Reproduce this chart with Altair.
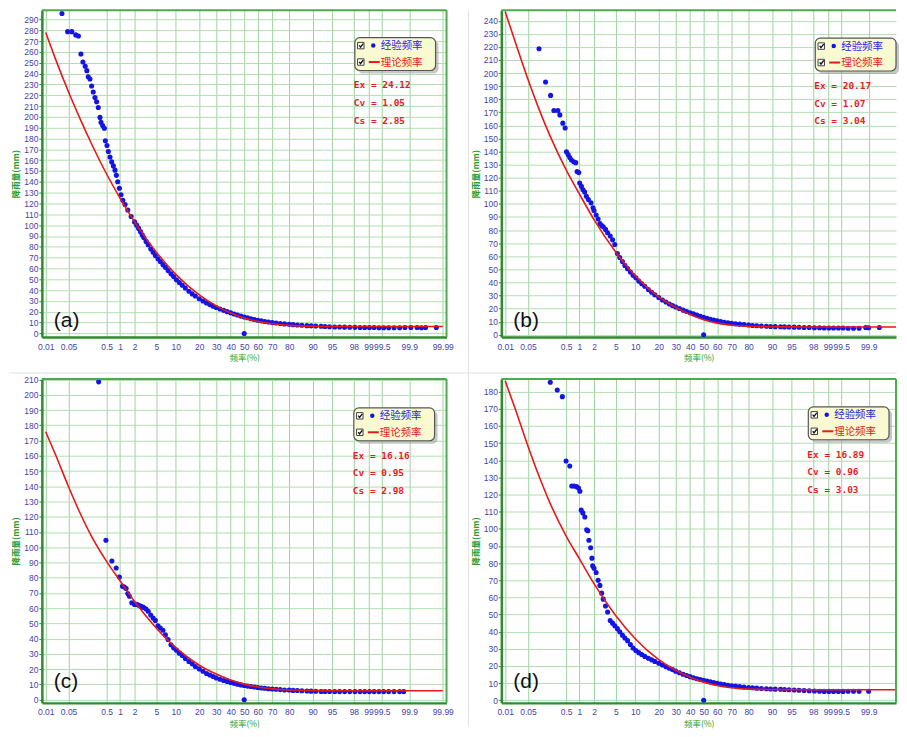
import altair as alt
import pandas as pd
from statistics import NormalDist

# ---------------- data ----------------
tick_p = [0.01, 0.05, 0.5, 1, 2, 5, 10, 20, 30, 40, 50, 60, 70, 80, 90, 95, 98, 99, 99.5, 99.9, 99.99]

curve_p = [0.01, 0.02, 0.05, 0.1, 0.2, 0.5, 1, 2, 5, 10, 20, 30, 40, 50, 60, 70, 80, 90,
           95, 98, 99, 99.5, 99.9, 99.99]
curve_a = [278, 254, 223, 200, 177, 147, 125, 103, 75, 54.5, 35.5, 25.4, 18.9, 14.3, 11.1, 8.9, 7.4, 6.6,
           6.4, 6.35, 6.35, 6.35, 6.35, 6.35]
curve_b = [247, 225, 195, 173, 152, 126, 107.5, 88, 63, 45, 29, 21, 15.4, 11.5, 8.9, 7.3, 6.5, 6.1,
           6.0, 5.97, 5.97, 5.97, 5.97, 5.97]
curve_c = [175.8, 161.2, 139.7, 123.6, 108.3, 90.6, 78, 64.4, 46.9, 34.1, 22.6, 16.8, 12.9, 10.2, 8.3, 7.1, 6.3, 6.0,
           5.9, 5.86, 5.86, 5.86, 5.86, 5.86]
curve_d = [186.3, 170.9, 148.2, 131.2, 115, 95.8, 82.5, 68, 49.3, 35.9, 23.7, 17.5, 13.5, 10.6, 8.6, 7.3, 6.5, 6.3,
           6.2, 6.19, 6.19, 6.19, 6.19, 6.19]

# dense part of the empirical points (shared frequencies)
band_p = [2.0, 2.2, 2.4, 2.6, 2.8, 3.0, 3.3, 3.6, 4.0, 4.4, 4.8,
          5.3, 5.8, 6.4, 7.0, 7.7, 8.5, 9.3,
          10.2, 11.2, 12.3, 13.5, 15.0, 16.5, 18.0,
          20.0, 22.0, 24.0, 26.0, 28.0, 30.0,
          32.5, 35.0, 37.5, 40.0, 42.5, 45.0, 47.5, 50.0, 52.5, 55.0, 57.5, 60.0, 62.5, 65.0, 67.5, 70.0,
          72.5, 75.0, 77.5, 80.0,
          82.0, 84.0, 86.0, 88.0,
          89.5, 91.0, 92.5, 93.5, 94.5, 95.5, 96.3, 97.0,
          97.6, 98.1, 98.5, 98.8, 99.05, 99.25, 99.42, 99.55, 99.66, 99.75, 99.82]
band_a = [103, 100, 97, 94, 91, 88.5, 85, 82, 78, 75, 72,
          69, 66.5, 63.5, 61, 58, 55, 52.5,
          49.5, 47, 44.5, 42, 39, 36.5, 34.5,
          32, 30, 28.2, 26.6, 25.2, 24,
          22.6, 21.3, 20.1, 19, 18, 17, 16, 15.2, 14.4, 13.6, 12.9, 12.2, 11.6, 11, 10.5, 10,
          9.6, 9.2, 8.8, 8.4,
          8.1, 7.8, 7.5, 7.2,
          7.0, 6.8, 6.6, 6.4, 6.2, 6.0, 5.9, 5.8,
          5.7, 5.6, 5.5, 5.5, 5.4, 5.4, 5.3, 5.3, 5.3, 5.2, 5.2]
band_b = [95, 91.5, 88.5, 85, 83.5, 82.5, 80.5, 78, 75.5, 72.5, 69,
          62, 59, 56, 53, 50.5, 48, 45.5,
          43.5, 41, 39, 37, 34.5, 32.5, 30.5,
          28.5, 26.5, 25, 23.5, 22.3, 21.2,
          20, 18.8, 17.8, 16.8, 16, 15, 14.2, 13.4, 12.6, 11.9, 11.2, 10.6, 10, 9.5, 9.1, 8.7,
          8.4, 8.1, 7.8, 7.4,
          7.1, 6.9, 6.7, 6.5,
          6.3, 6.2, 6.1, 6.0, 5.9, 5.8, 5.7, 5.6,
          5.5, 5.4, 5.3, 5.2, 5.2, 5.1, 5.1, 5.1, 5.0, 5.0, 5.0]
band_c = [62.5, 62.5, 62, 61.5, 61, 60.5, 59.5, 58, 55.5, 53.5, 52,
          48.5, 47, 45.5, 42.5, 39.5, 36, 34,
          32.5, 30.5, 29, 27, 25, 23.5, 21.8,
          20.2, 18.6, 17.2, 16.2, 15.2, 14.3,
          13.4, 12.6, 11.9, 11.3, 10.7, 10.2, 9.7, 9.3, 8.9, 8.6, 8.3, 8.0, 7.7, 7.5, 7.2, 7.0,
          6.8, 6.6, 6.4, 6.3,
          6.1, 6.0, 5.8, 5.7,
          5.6, 5.5, 5.4, 5.4, 5.4, 5.3, 5.3, 5.3,
          5.3, 5.3, 5.3, 5.3, 5.3, 5.3, 5.3, 5.3, 5.3, 5.3, 5.3]
band_d = [77, 74.5, 70, 67, 62.5, 59, 55, 51.5, 46.5, 45, 43.5,
          41.8, 40, 38, 36.3, 34.8, 32.5, 30.5,
          29, 27.8, 26.7, 25.6, 24.5, 23.6, 22.7,
          21.6, 20.6, 19.6, 18.7, 17.9, 17,
          16.1, 15.2, 14.5, 13.8, 13.2, 12.6, 12.1, 11.7, 11.2, 10.8, 10.3, 9.9, 9.5, 9.2, 8.8, 8.5,
          8.3, 8.0, 7.7, 7.5,
          7.3, 7.1, 6.9, 6.7,
          6.6, 6.5, 6.4, 6.3, 6.2, 6.0, 5.9, 5.7,
          5.6, 5.4, 5.3, 5.2, 5.2, 5.2, 5.2, 5.2, 5.3, 5.3, 5.3]

# sparse upper empirical points
upper_a_p = [0.032, 0.047, 0.062, 0.080, 0.095, 0.111, 0.126, 0.145, 0.160, 0.174, 0.193, 0.213, 0.234,
             0.259, 0.285, 0.313, 0.345, 0.365, 0.40, 0.44, 0.464, 0.508, 0.546, 0.597, 0.653, 0.713,
             0.776, 0.831, 0.89, 0.97, 1.05, 1.15, 1.28, 1.46, 1.71]
upper_a_v = [295.5, 278.7, 278.7, 275.7, 274.7, 258, 250.7, 246.7, 242.7, 237, 235, 228.5, 223,
             217.8, 214, 208.6, 199.5, 195, 192, 189.5, 178, 173.6, 168, 163, 158.4, 154.7,
             150.8, 146, 140, 134, 128, 123, 119, 114, 108]
upper_b_p = [0.102, 0.153, 0.207, 0.251, 0.316, 0.353, 0.417, 0.473, 0.509, 0.556, 0.607, 0.663,
             0.748, 0.829, 0.887, 0.964, 1.01, 1.10, 1.19, 1.29, 1.40, 1.54, 1.74, 1.91]
upper_b_v = [218.6, 193.2, 182.9, 171.3, 171.3, 168, 161.7, 158, 139.8, 137.8, 135.5, 133.5,
             132.2, 131.5, 124.7, 123.9, 115.9, 113.4, 110.8, 109, 105.8, 103.3, 100.8, 97]
upper_c_p = [0.32, 0.479, 0.659, 0.824, 0.97, 1.13, 1.24, 1.35, 1.46, 1.58, 1.76, 1.98]
upper_c_v = [208.5, 104.6, 91, 86.4, 80.4, 74.4, 73.9, 72.9, 69.6, 67.9, 63.6, 62.8]
upper_d_p = [0.203, 0.305, 0.406, 0.497, 0.607, 0.674, 0.763, 0.861, 0.952, 1.02, 1.09, 1.18, 1.30,
             1.42, 1.50, 1.58, 1.71, 1.82, 1.88]
upper_d_v = [185.5, 181, 177.1, 139.6, 136.6, 125, 125, 124.6, 123.8, 121.9, 110.9, 109.3, 106.9,
             99.4, 98.9, 93.3, 89, 82.9, 78.5]

# sparse tail points and the zero outlier at 50 %
tail_a_p = [99.87, 99.91, 99.94, 99.955, 99.966, 99.984]
tail_a_v = [5.4, 5.4, 5.4, 5.3, 5.4, 5.4]
tail_b_p = [99.88, 99.9, 99.95]
tail_b_v = [5.5, 5.4, 5.5]
tail_c_p = [99.86]
tail_c_v = [5.3]
tail_d_p = [99.9]
tail_d_v = [5.3]
zero_p = [50]
zero_v = [0]

stats_a = ["Ex = 24.12", "Cv = 1.05", "Cs = 2.85"]
stats_b = ["Ex = 20.17", "Cv = 1.07", "Cs = 3.04"]
stats_c = ["Ex = 16.16", "Cv = 0.95", "Cs = 2.98"]
stats_d = ["Ex = 16.89", "Cv = 0.96", "Cs = 3.03"]

legend_labels = ["经验频率", "理论频率"]

# ---------------- styling ----------------
BLUE = "#1414e6"
RED = "#e41a1a"
GRIDX = "#9fd39f"
GRIDY = "#b3ddb3"
AXIS = "#2e8b2e"
FRAME = "#4cab4c"
LABEL = "#4545a5"
TITLE = "#2c9c2c"
SEP = "#e2e2e2"

nd = NormalDist()
ZEXPR = "quantileNormal(datum.p / 100)"
XMIN = -3.79


def panel(tag, cur_v, up_p, up_v, bd_v, tl_p, tl_v, ydom, w, h, xmax, stats, lx, ly, lab_dy,
          right_border=True, separators=False):
    xs = alt.Scale(domain=[XMIN, xmax], nice=False, zero=False)
    ys = alt.Scale(domain=ydom, nice=False, zero=False)
    xvals = [nd.inv_cdf(p / 100.0) for p in tick_p if nd.inv_cdf(p / 100.0) <= xmax]
    yvals = list(range(0, int(ydom[1]) + 1, 10))
    xaxis = alt.Axis(values=xvals, labelExpr="format(cumulativeNormal(datum.value) * 100, '.4~r')",
                     title="频率(%)", grid=True, gridColor=GRIDX, gridWidth=1, ticks=False,
                     labelPadding=5, labelFontSize=8.5, labelFont="Liberation Sans", labelColor=LABEL,
                     labelFlush=False, labelOverlap=False, domainColor=AXIS, domainWidth=2.5,
                     titleColor=TITLE, titleFont="Noto Sans CJK SC", titleFontSize=8.5,
                     titleFontWeight="normal", titleY=16.5, titleBaseline="top")
    yaxis = alt.Axis(values=yvals, title="降雨量(mm)", grid=True, gridColor=GRIDY, gridWidth=1,
                     tickSize=3, tickColor=AXIS, labelPadding=1, labelFontSize=8.5,
                     labelFont="Liberation Sans", labelColor=LABEL, labelOverlap=False,
                     domainColor=AXIS, domainWidth=2.5, titleColor=TITLE, titleFont="Noto Sans CJK SC",
                     titleFontSize=8.5, titleFontWeight="bold", titleAngle=270, titleAlign="center",
                     titleBaseline="bottom", titleX=-21, titleY=h / 2)
    x_enc = alt.X("z:Q", scale=xs, axis=xaxis)
    y_enc = alt.Y("v:Q", scale=ys, axis=yaxis)

    emp = pd.DataFrame({"p": up_p + band_p + tl_p + zero_p, "v": up_v + bd_v + tl_v + zero_v})
    cur = pd.DataFrame({"p": curve_p, "v": cur_v})
    one = pd.DataFrame({"k": [0]})
    base = alt.Chart(one)

    layers = []
    if separators:
        layers.append(base.mark_rule(color=SEP, strokeWidth=1).encode(
            x=alt.value(-33), x2=alt.value(858), y=alt.value(364)))
        layers.append(base.mark_rule(color=SEP, strokeWidth=1).encode(
            x=alt.value(428), y=alt.value(0), y2=alt.value(719)))

    pts = alt.Chart(emp).transform_calculate(z=ZEXPR).mark_circle(
        size=26, color=BLUE, opacity=1, clip=True).encode(x=x_enc, y=y_enc)
    line = alt.Chart(cur).transform_calculate(z=ZEXPR).mark_line(
        color=RED, strokeWidth=1.6, interpolate="monotone", clip=True).encode(x=x_enc, y=y_enc)
    layers += [pts, line]

    # frame (top / right)
    layers.append(base.mark_rule(color=FRAME, strokeWidth=2).encode(
        x=alt.value(0), x2=alt.value(w), y=alt.value(0)))
    if right_border:
        layers.append(base.mark_rule(color=FRAME, strokeWidth=2).encode(
            x=alt.value(w), y=alt.value(0), y2=alt.value(h)))

    # legend box
    layers.append(base.mark_rect(color="#9a9a9a", opacity=0.55, cornerRadius=5).encode(
        x=alt.value(lx + 3), x2=alt.value(lx + 84), y=alt.value(ly + 3), y2=alt.value(ly + 36)))
    layers.append(base.mark_rect(fill="#fafad2", stroke="#555555", strokeWidth=1.2, cornerRadius=5).encode(
        x=alt.value(lx), x2=alt.value(lx + 81), y=alt.value(ly), y2=alt.value(ly + 33)))
    for dy in (8, 24.5):
        layers.append(base.mark_point(shape="square", filled=True, fill="white", stroke="#444444",
                                      strokeWidth=1, size=42, opacity=1).encode(
            x=alt.value(lx + 6), y=alt.value(ly + dy)))
        layers.append(base.mark_point(shape="M-0.65,-0.05L-0.2,0.55L0.75,-0.7", filled=False,
                                      stroke="#111111", strokeWidth=1.3, size=34, opacity=1).encode(
            x=alt.value(lx + 6.3), y=alt.value(ly + dy)))
    layers.append(base.mark_circle(color=BLUE, size=20, opacity=1).encode(
        x=alt.value(lx + 18.5), y=alt.value(ly + 8)))
    layers.append(base.mark_rule(color=RED, strokeWidth=2).encode(
        x=alt.value(lx + 14), x2=alt.value(lx + 25), y=alt.value(ly + 24.5)))
    for txt, dy, col in ((legend_labels[0], 8.5, "#2a2ae0"), (legend_labels[1], 25, RED)):
        layers.append(base.mark_text(align="left", baseline="middle", font="Noto Sans CJK SC",
                                     fontSize=10.5, color=col).encode(
            x=alt.value(lx + 26), y=alt.value(ly + dy), text=alt.value(txt)))

    # statistics
    for i, s in enumerate(stats):
        layers.append(base.mark_text(align="left", baseline="middle", font="DejaVu Sans Mono",
                                     fontWeight="bold", fontSize=9.5, color="#e61e1e").encode(
            x=alt.value(lx - 1), y=alt.value(ly + 48 + 17.8 * i), text=alt.value(s)))

    # panel tag
    layers.append(base.mark_text(align="left", baseline="middle", font="Liberation Sans",
                                 fontSize=21, color="#111111").encode(
        x=alt.value(12), y=alt.value(h - lab_dy), text=alt.value(tag)))

    return alt.layer(*layers).properties(width=w, height=h)


W1 = 406
W2 = 396
XMAX1 = 3.79
XMAX2 = XMIN + (XMAX1 - XMIN) * W2 / W1
H1 = 328
H2 = 325

pa = panel("(a)", curve_a, upper_a_p, upper_a_v, band_a, tail_a_p, tail_a_v, [-3.4, 298.5],
           W1, H1, XMAX1, stats_a, 314, 27.5, 16, separators=True)
pb = panel("(b)", curve_b, upper_b_p, upper_b_v, band_b, tail_b_p, tail_b_v, [-1.8, 248],
           W2, H1, XMAX2, stats_b, 315, 28, 16, right_border=False)
pc = panel("(c)", curve_c, upper_c_p, upper_c_v, band_c, tail_c_p, tail_c_v, [-2.1, 210.4],
           W1, H2, XMAX1, stats_c, 313, 29, 21)
pd_ = panel("(d)", curve_d, upper_d_p, upper_d_v, band_d, tail_d_p, tail_d_v, [-1.5, 187.4],
            W2, H2, XMAX2, stats_d, 308, 28, 21)

chart = alt.concat(pa, pb, pc, pd_, columns=2, spacing={"row": 42, "column": 55}, bounds="flush",
                   padding={"left": 0, "top": 0, "right": 0, "bottom": 0}, background="white"
                   ).configure_view(strokeWidth=0)

chart.save("out.html", embed_options={"renderer": "svg", "actions": False})
